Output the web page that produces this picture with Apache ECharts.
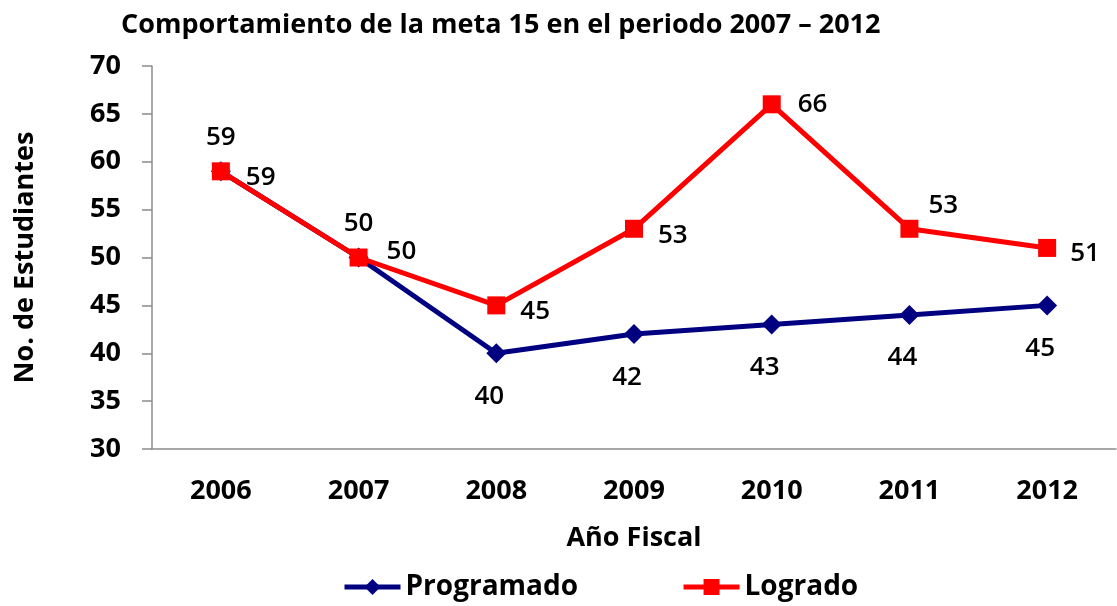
<!DOCTYPE html>
<html lang="es">
<head>
    <meta charset="UTF-8">
    <title>Comportamiento de la meta 15</title>
    <script src="https://cdn.jsdelivr.net/npm/echarts/dist/echarts.min.js"></script>
    <style>
        html, body { margin: 0; padding: 0; background: #fff; }
        #chart { width: 1117px; height: 606px; }
    </style>
</head>
<body>
    <div id="chart"></div>
    <script>
        var anios = ['2006', '2007', '2008', '2009', '2010', '2011', '2012'];
        var programado = [59, 50, 40, 42, 43, 44, 45];
        var logrado = [59, 50, 45, 53, 66, 53, 51];

        var fuente = 'Open Sans';
        var chart = echarts.init(document.getElementById('chart'));

        // etiquetas de Logrado: algunas van un poco más arriba o abajo
        var ajusteLogrado = [[0, 6], [3, -6], [-1, 6], [-1, 7], [1, 0], [-6, -23], [-2, 6]];

        var option = {
            animation: false,
            title: {
                text: 'Comportamiento de la meta 15 en el periodo 2007 – 2012',
                left: 116,
                top: 7,
                textStyle: { fontFamily: fuente, fontSize: 27, fontWeight: 'bold', color: '#000' }
            },
            legend: {
                bottom: 0,
                left: 337,
                itemGap: 103,
                itemWidth: 56,
                itemHeight: 20,
                lineStyle: { width: 5 },
                textStyle: { fontFamily: fuente, fontSize: 28, fontWeight: 'bold', color: '#000' },
                data: ['Programado', 'Logrado']
            },
            grid: { left: 152, right: 1, top: 66, bottom: 157 },
            xAxis: {
                type: 'category',
                data: anios,
                name: 'Año Fiscal',
                nameLocation: 'middle',
                nameGap: 76,
                nameTextStyle: { fontFamily: fuente, fontSize: 27, fontWeight: 'bold', color: '#000' },
                axisLine: { lineStyle: { color: '#8c8c8c', width: 1.5 } },
                axisTick: { length: 10, lineStyle: { color: '#8c8c8c', width: 1.5 } },
                axisLabel: { fontFamily: fuente, fontSize: 27, fontWeight: 'bold', color: '#000', margin: 29 }
            },
            yAxis: {
                type: 'value',
                min: 30,
                max: 70,
                interval: 5,
                name: 'No. de Estudiantes',
                nameLocation: 'middle',
                nameRotate: 90,
                nameGap: 113,
                nameTextStyle: { fontFamily: fuente, fontSize: 27, fontWeight: 'bold', color: '#000' },
                axisLine: { show: true, lineStyle: { color: '#8c8c8c', width: 1.5 } },
                axisTick: { show: true, length: 10, lineStyle: { color: '#8c8c8c', width: 1.5 } },
                splitLine: { show: false },
                axisLabel: { fontFamily: fuente, fontSize: 27, fontWeight: 'bold', color: '#000', margin: 31 }
            },
            series: [
                {
                    name: 'Programado',
                    type: 'line',
                    symbol: 'diamond',
                    symbolSize: 20,
                    itemStyle: { color: '#000080' },
                    lineStyle: { color: '#000080', width: 5 },
                    data: programado.map(function (v, i) {
                        return {
                            value: v,
                            label: {
                                position: i < 2 ? 'top' : 'bottom',
                                distance: i < 2 ? 11 : 20,
                                offset: i < 2 ? [0, 0] : [-7, 0]
                            }
                        };
                    }),
                    label: {
                        show: true,
                        fontFamily: fuente,
                        fontSize: 26,
                        fontWeight: 600,
                        color: '#000'
                    },
                    z: 2
                },
                {
                    name: 'Logrado',
                    type: 'line',
                    symbol: 'rect',
                    symbolSize: 18,
                    itemStyle: { color: '#ff0000' },
                    lineStyle: { color: '#ff0000', width: 5 },
                    data: logrado.map(function (v, i) {
                        return { value: v, label: { offset: ajusteLogrado[i] } };
                    }),
                    label: {
                        show: true,
                        position: 'right',
                        distance: 16,
                        fontFamily: fuente,
                        fontSize: 26,
                        fontWeight: 600,
                        color: '#000'
                    },
                    z: 3
                }
            ]
        };

        chart.setOption(option);
    </script>
</body>
</html>
